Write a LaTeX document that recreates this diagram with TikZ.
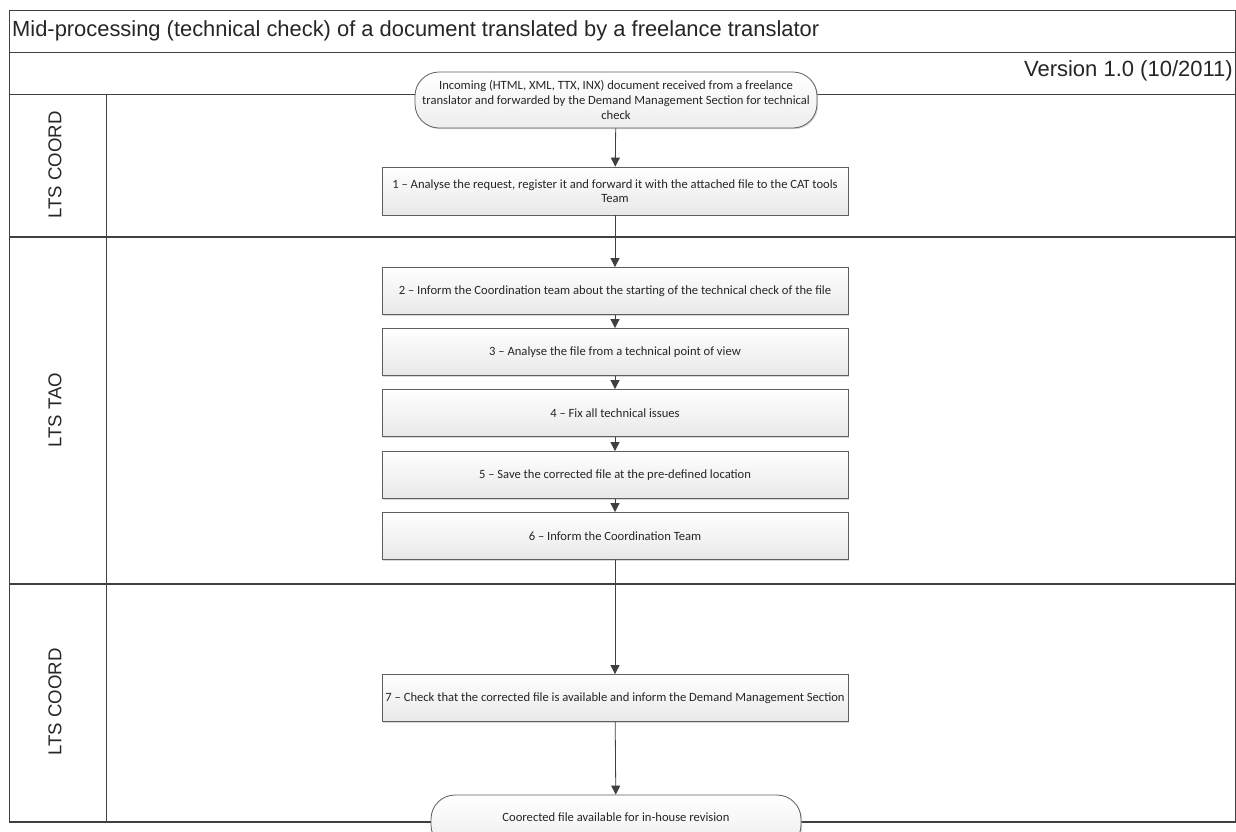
\documentclass[tikz,border=0pt]{standalone}
\usepackage{fontspec}
\setmainfont{Liberation Sans}
\newfontfamily\boxfont[Ligatures=TeX]{Carlito}
\usetikzlibrary{arrows.meta,shadows}
\definecolor{lineclr}{HTML}{404040}
\definecolor{boxline}{HTML}{5E5E5E}
\definecolor{textclr}{HTML}{262626}
\tikzset{
  procbox/.style={draw=boxline, line width=0.8pt, top color=white, bottom color=black!9,
    minimum width=466pt, minimum height=47pt, align=center, text=textclr,
    font=\boxfont\fontsize{12.6}{14}\selectfont,
    drop shadow={shadow xshift=1.2pt, shadow yshift=-1.2pt, fill=black!30}},
  termbox/.style={draw=boxline, line width=0.8pt, top color=white, bottom color=black!7,
    rounded corners=24pt, inner xsep=0pt, minimum height=56pt, align=center, text=textclr,
    font=\boxfont\fontsize{12.6}{15}\selectfont,
    drop shadow={shadow xshift=1.2pt, shadow yshift=-1.2pt, fill=black!30}},
  flow/.style={draw=lineclr, line width=0.8pt, -{Triangle[length=9pt,width=9pt]}},
  plain/.style={draw=lineclr, line width=0.8pt},
  thick lane/.style={draw=lineclr, line width=1.6pt},
  lanelabel/.style={rotate=90, font=\fontsize{18.6}{22}\selectfont, text=textclr},
}
\begin{document}
\begin{tikzpicture}[x=1pt,y=-1pt]
\clip (0,0) rectangle (1236,831);
\fill[white] (0,0) rectangle (1236,831);
% frame and lanes
\draw[plain] (9,10) rectangle (1235,822);
\draw[plain] (9,52) -- (1235,52);
\draw[plain] (9,94) -- (1235,94);
\draw[thick lane] (9,237) -- (1235,237);
\draw[thick lane] (9,584) -- (1235,584);
\draw[thick lane] (9,822) -- (1235,822);
\draw[plain] (106,94) -- (106,822);
% header texts
\node[anchor=west, font=\fontsize{21.9}{25}\selectfont, text=textclr, inner sep=0pt] (title) at (12,31) {Mid-processing (technical check) of a document translated by a freelance translator};
\node[anchor=east, font=\fontsize{22}{25}\selectfont, text=textclr, inner sep=0pt] (version) at (1233,71) {Version 1.0 (10/2011)};
% lane labels
\node[lanelabel] (l1) at (55,165) {LTS COORD};
\node[lanelabel] (l2) at (55,410) {LTS TAO};
\node[lanelabel] (l3) at (55,702) {LTS COORD};
% nodes
\node[termbox, minimum width=402pt] (start) at (616,100) {Incoming (HTML, XML, TTX, INX) document received from a freelance\\translator and forwarded by the Demand Management Section for technical\\check};
\node[procbox, minimum height=48pt] (b1) at (615,191) {1 – Analyse the request, register it and forward it with the attached file to the CAT tools\\Team};
\node[procbox] (b2) at (615,291) {2 – Inform the Coordination team about the starting of the technical check of the file};
\node[procbox] (b3) at (615,352) {3 – Analyse the file from a technical point of view};
\node[procbox] (b4) at (615,413) {4 – Fix all technical issues};
\node[procbox] (b5) at (615,475) {5 – Save the corrected file at the pre-defined location};
\node[procbox] (b6) at (615,536) {6 – Inform the Coordination Team};
\node[procbox] (b7) at (615,698) {7 – Check that the corrected file is available and inform the Demand Management Section};
\node[termbox, minimum width=370pt, minimum height=54pt] (end) at (616,822) {\raisebox{10pt}{Coorected file available for in-house revision}};
% connectors
\draw[flow] (start) -- (b1);
\draw[flow] (b1) -- (b2);
\draw[flow] (b2) -- (b3);
\draw[flow] (b3) -- (b4);
\draw[flow] (b4) -- (b5);
\draw[flow] (b5) -- (b6);
\draw[flow] (b6) -- (b7);
\draw[flow] (b7) -- (end);
\end{tikzpicture}
\end{document}
